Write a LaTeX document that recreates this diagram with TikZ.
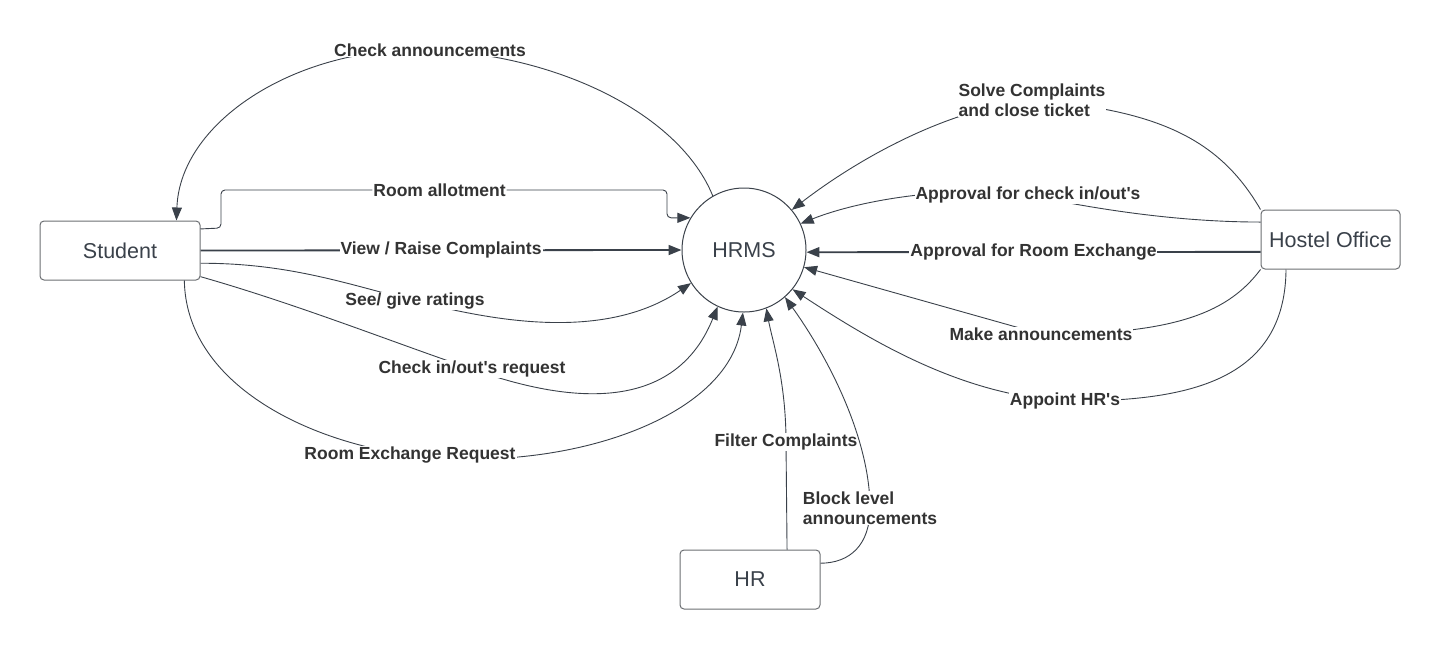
\documentclass[tikz,border=0pt]{standalone}
\usepackage{fontspec}
\setmainfont{Liberation Sans}
\usetikzlibrary{arrows.meta}
\definecolor{lineclr}{HTML}{3A414A}
\definecolor{txtclr}{HTML}{333333}
\definecolor{boxclr}{HTML}{6B6E72}
\newcommand{\apo}{\textquotesingle}

\begin{document}
\begin{tikzpicture}[x=1pt, y=-1pt,
  ent/.style={draw=boxclr, line width=1pt, rounded corners=4pt, minimum height=59pt, inner sep=0pt, text=lineclr, font=\fontsize{21.5}{24}\selectfont},
  proc/.style={draw=lineclr, circle, minimum size=124pt, inner sep=0pt, line width=1pt, text=lineclr, font=\fontsize{21.5}{24}\selectfont},
  flow/.style={draw=lineclr, line width=0.9pt, -{Triangle[length=13pt,width=10pt]}},
  heavy/.style={flow, line width=1.8pt},
  lbl/.style={fill=white, inner sep=1pt, text=txtclr, font=\bfseries\fontsize{17.5}{20}\selectfont},
  mlbl/.style={lbl, align=left}
]
  \useasboundingbox (0,0) rectangle (1440,649);

  % entities and the process
  \node[ent, minimum width=160pt] (student) at (120,250.5) {Student};
  \node[ent, minimum width=139pt] (office) at (1330.5,239.5) {Hostel Office};
  \node[ent, minimum width=140pt] (hr) at (750,579.5) {HR};
  \node[proc] (hrms) at (744,250) {HRMS};

  % student side
  \draw[flow] (hrms.120) .. controls (680,115) and (560,55) .. (430,50) node[lbl] {Check announcements}
    .. controls (300,45) and (180,120) .. (student.28.6);
  \draw[flow, rounded corners=4pt] (student.15.7) -- (221,228) -- (221,190)
    -- node[lbl, pos=0.49] {Room allotment} (667,190) |- (hrms.149);
  \draw[heavy] (student.east) -- node[lbl] {View / Raise Complaints} (hrms.west);
  \draw[flow] (student.351.1) .. controls (290,263) and (350,285) .. (415,301) node[lbl] {See/ give ratings}
    .. controls (480,317) and (600,345) .. (hrms.212);
  \draw[flow] (student.342.3) .. controls (300,305) and (400,345) .. (472,369) node[lbl] {Check in/out\apo s request}
    .. controls (545,395) and (670,425) .. (hrms.245);
  \draw[flow] (student.335.9) .. controls (186,380) and (300,440) .. (410,455) node[lbl] {Room Exchange Request}
    .. controls (560,475) and (730,420) .. (hrms.269);

  % hr side
  \draw[flow] (hr.39.3) -- (786,442) node[lbl] {Filter Complaints}
    .. controls (786,380) and (772,340) .. (hrms.291);
  \draw[flow] (hr.13.3) .. controls (850,563) and (870,545) .. (870,508) node[mlbl] {Block level\\announcements}
    .. controls (870,440) and (830,360) .. (hrms.311);

  % hostel office side
  \draw[flow] (office.north west) .. controls (1220,140) and (1160,110) .. (1032,100) node[mlbl] {Solve Complaints\\and close ticket}
    .. controls (940,110) and (850,165) .. (hrms.40);
  \draw[flow] (office.166.6) .. controls (1180,222) and (1100,210) .. (1028,195) node[lbl] {Approval for check in/out\apo s}
    .. controls (950,185) and (860,200) .. (hrms.25);
  \draw[heavy] (office.190.2) -- node[lbl] {Approval for Room Exchange} (hrms.358);
  \draw[flow] (office.south west) .. controls (1230,310) and (1180,335) .. (1041,334) node[lbl] {Make announcements}
    -- (hrms.344);
  \draw[flow] (office.214.1) .. controls (1285,380) and (1190,402) .. (1065,401) node[lbl] {Appoint HR\apo s}
    .. controls (960,395) and (870,340) .. (hrms.321);
\end{tikzpicture}
\end{document}
